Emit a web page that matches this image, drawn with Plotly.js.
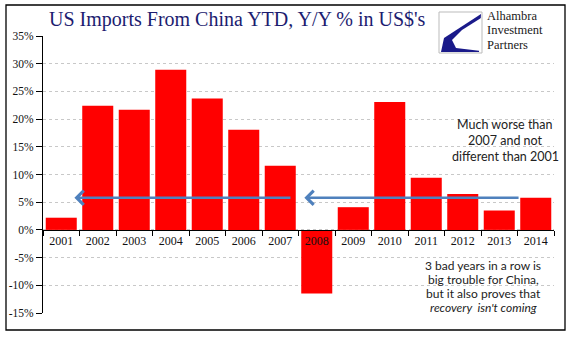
<!DOCTYPE html>
<html><head><meta charset="utf-8">
<script src="https://cdn.plot.ly/plotly-3.0.1.min.js"></script>
<style>html,body{margin:0;padding:0;background:#fff}#c{width:577px;height:341px}</style>
</head><body><div id="c"></div>
<script>
const years = ['2001','2002','2003','2004','2005','2006','2007','2008','2009','2010','2011','2012','2013','2014'];
const yoyPct = [2.2, 22.4, 21.7, 28.9, 23.7, 18.1, 11.6, -11.5, 4.1, 23.1, 9.4, 6.5, 3.5, 5.8];
const yTicks = [-15,-10,-5,0,5,10,15,20,25,30,35];
const yTickText = yTicks.map(v => v + '%');
const titleText = "US Imports From China YTD, Y/Y % in US$'s";
const note1Lines = ['Much worse than', '2007 and not', 'different than 2001'];
const note2Lines = ['3 bad years in a row is', 'big trouble for China,', 'but it also proves that', "<i>recovery  isn't coming</i>"];
const logoLines = ['Alhambra', 'Investment', 'Partners'];

const yMin = -15, yMax = 35;
const level = yoyPct[yoyPct.length-1];
const arrowColor = '#4f81bd';
const W = 511, H = 277, L = 43, T = 36;
const px = x => (x - L)/W, py = y => 1 - (y - T)/H;

const data = [{
  type: 'bar', x: years, y: yoyPct,
  marker: {color: '#ff0000', line: {width: 0}},
  hoverinfo: 'skip'
}];

const anns = [
  {xref: 'x', yref: 'y', axref: 'x', ayref: 'y', x: 0.36, y: level, ax: 6.32, ay: level,
   text: '', showarrow: true, arrowhead: 4, arrowsize: 1.1, arrowwidth: 2.5, arrowcolor: arrowColor},
  {xref: 'x', yref: 'y', axref: 'x', ayref: 'y', x: 6.66, y: level, ax: 12.57, ay: level,
   text: '', showarrow: true, arrowhead: 4, arrowsize: 1.1, arrowwidth: 2.5, arrowcolor: arrowColor}
];
note1Lines.forEach((t, i) => anns.push({xref: 'paper', yref: 'paper', x: px(505), y: py(124 + 16*i),
  xanchor: 'center', yanchor: 'middle', text: t, showarrow: false,
  font: {family: 'Lato, Open Sans, sans-serif', size: 12.5, color: '#222'}}));
note2Lines.forEach((t, i) => anns.push({xref: 'paper', yref: 'paper', x: px(483), y: py(265 + 14*i),
  xanchor: 'center', yanchor: 'middle', text: t, showarrow: false,
  font: {family: 'Lato, Open Sans, sans-serif', size: 12, color: '#222'}}));
logoLines.forEach((t, i) => anns.push({xref: 'paper', yref: 'paper', x: px(486), y: py(15.5 + 14.5*i),
  xanchor: 'left', yanchor: 'middle', text: t, showarrow: false, borderpad: 0,
  font: {family: 'Liberation Serif, serif', size: 12.5, color: '#1a1a1a'}}));

const pathOf = pts => 'M' + pts.map(p => px(p[0]) + ',' + py(p[1])).join(' L') + ' Z';

const layout = {
  width: 577, height: 341,
  margin: {l: L, r: 23, t: T, b: 28, pad: 0},
  paper_bgcolor: '#fff', plot_bgcolor: '#fff',
  showlegend: false, bargap: 0.15,
  title: {text: titleText, xref: 'container', yref: 'container', x: 49/577, xanchor: 'left',
          y: 1 - 19/341, yanchor: 'middle',
          font: {family: 'Liberation Serif, serif', size: 20, color: '#1c1c70'}},
  xaxis: {
    type: 'category', anchor: 'free', position: (0 - yMin)/(yMax - yMin),
    showline: true, linecolor: '#000', linewidth: 1,
    ticks: 'outside', tickson: 'boundaries', ticklen: 5, tickcolor: '#000',
    showgrid: false, zeroline: false,
    tickfont: {family: 'Liberation Serif, serif', size: 12, color: '#111'},
    range: [-0.5, years.length - 0.5], fixedrange: true
  },
  yaxis: {
    range: [yMin, yMax], tickvals: yTicks, ticktext: yTickText,
    showline: true, linecolor: '#000', linewidth: 1,
    ticks: 'outside', ticklen: 6, tickcolor: '#000',
    showgrid: true, gridcolor: '#c8c8c8', griddash: 'dot', gridwidth: 1,
    zeroline: false,
    tickfont: {family: 'Liberation Serif, serif', size: 11.5, color: '#111'},
    fixedrange: true
  },
  annotations: anns,
  shapes: [
    {type: 'rect', xref: 'paper', yref: 'paper', layer: 'below',
     x0: px(6), x1: px(565), y0: py(330), y1: py(5),
     line: {color: '#000', width: 1.3}, fillcolor: 'rgba(0,0,0,0)'},
    {type: 'rect', xref: 'paper', yref: 'paper',
     x0: px(439), x1: px(482), y0: py(53), y1: py(12),
     line: {color: '#bbb', width: 1}, fillcolor: '#fff'},
    {type: 'path', xref: 'paper', yref: 'paper',
     path: pathOf([[481,14],[444,38],[441,52],[479,52]]),
     line: {width: 0}, fillcolor: '#1a1a8a'},
    {type: 'path', xref: 'paper', yref: 'paper',
     path: pathOf([[481,18],[462,30],[452,40],[456,48],[481,51]]),
     line: {width: 0}, fillcolor: '#ffffff'}
  ]
};

Plotly.newPlot('c', data, layout, {displayModeBar: false, staticPlot: true});
</script></body></html>
